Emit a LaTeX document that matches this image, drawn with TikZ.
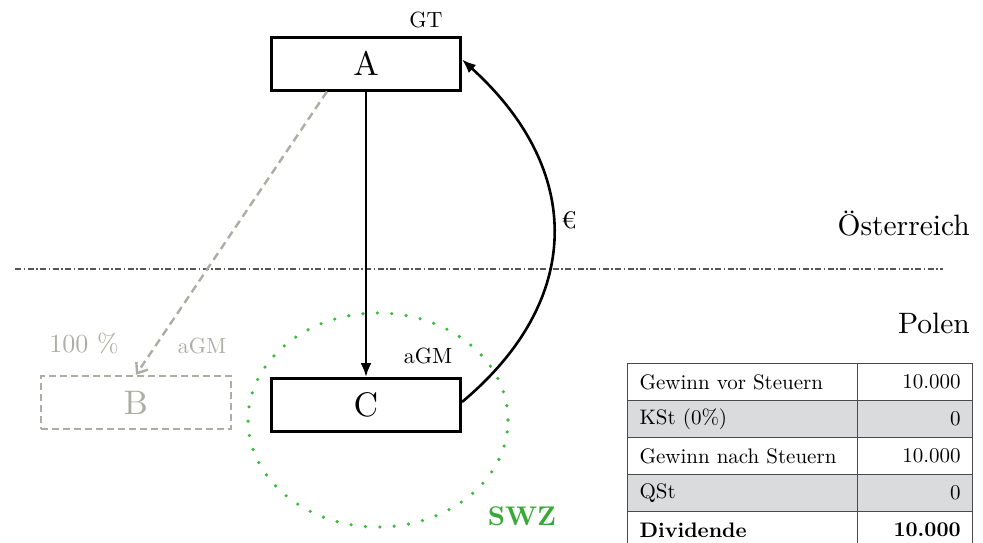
\documentclass[tikz,border=0pt]{standalone}
\usepackage{fontspec}
\setmainfont{lmroman10}[Extension=.otf, UprightFont=*-regular, BoldFont=*-bold,
  ItalicFont=*-italic, BoldItalicFont=*-bolditalic]
\usetikzlibrary{arrows.meta,calc}
\definecolor{ghost}{HTML}{ADADA5}
\definecolor{zone}{HTML}{3DBB3D}
\definecolor{swz}{HTML}{38A838}
\definecolor{rowgray}{HTML}{D9DBDC}
\definecolor{rule}{HTML}{4A4A4A}
\definecolor{border}{HTML}{555555}

\begin{document}
\begin{tikzpicture}[x=1pt,y=-1pt,
  entity/.style={draw, line width=3pt, minimum width=189pt, minimum height=53pt,
    inner sep=0pt, font=\fontsize{34}{38}\selectfont},
  ghostbox/.style={draw=ghost, dash pattern=on 7pt off 4pt, line width=2.4pt,
    minimum width=190pt, minimum height=53pt, inner sep=0pt, text=ghost,
    font=\fontsize{34}{38}\selectfont},
  tag/.style={font=\fontsize{22}{24}\selectfont, inner sep=0pt, anchor=base},
  country/.style={font=\fontsize{29.5}{32}\selectfont, inner sep=0pt, anchor=base east},
  flow/.style={line width=2.6pt, -{Latex[length=14pt,width=11pt]}},
  cell/.style={draw=rule, line width=1.3pt, anchor=north west, minimum height=37pt,
    inner xsep=12pt, inner ysep=0pt, font=\fontsize{21}{23}\selectfont},
  cellL/.style={cell, minimum width=230pt, text width=206pt, align=left},
  cellR/.style={cell, minimum width=115pt, text width=91pt, align=right},
  shaded/.style={fill=rowgray}
]
\useasboundingbox (0,0) rectangle (983,542);

% border between the two countries
\draw[border, line width=1.4pt, dash pattern=on 6pt off 2.5pt on 1.5pt off 2.5pt]
  (15,269) -- (943,269);
\node[country] (at) at (970,235) {Österreich};
\node[country] (pl) at (970,333) {Polen};

% special economic zone
\draw[zone, line width=3.6pt, line cap=round, dash pattern=on 0pt off 14.4pt]
  (378,420) ellipse [x radius=130pt, y radius=107pt];
\node[font=\fontsize{27}{29}\selectfont\bfseries, text=swz, anchor=base, inner sep=0pt]
  (swz) at (522,525) {SWZ};

% companies
\node[entity] (A) at (366,63.5) {A};
\node[entity, fill=white] (C) at (366,405) {C};
\node[ghostbox] (B) at (136,402.5) {B};

\node[tag] (gt) at (426,27) {GT};
\node[tag] (agmC) at (428,363) {aGM};
\node[tag, text=ghost, font=\fontsize{26}{28}\selectfont] (pct) at (84,352) {100 \%};
\node[tag, text=ghost] (agmB) at (202,353) {aGM};

% holdings and dividend flow
\draw[flow] (A.south) -- (C.north);
\draw[ghost, line width=2.4pt, dash pattern=on 8pt off 5pt, -{Straight Barb[length=9pt,width=14pt]}]
  ([xshift=-39pt]A.south) -- (B.north);
\draw[flow] ([yshift=3pt]C.east) .. controls (584,300) and (584,170) .. ([yshift=4pt]A.east);
\node[font=\fontsize{24}{26}\selectfont, anchor=base, inner sep=0pt] (eur) at (569,228) {€};

% tax computation
\node[cellL] (l1) at (627,363) {Gewinn vor Steuern};
\node[cellR] (r1) at (857,363) {10.000};
\node[cellL, shaded] (l2) at (627,400) {KSt (0\%)};
\node[cellR, shaded] (r2) at (857,400) {0};
\node[cellL] (l3) at (627,437) {Gewinn nach Steuern};
\node[cellR] (r3) at (857,437) {10.000};
\node[cellL, shaded] (l4) at (627,474) {QSt};
\node[cellR, shaded] (r4) at (857,474) {0};
\node[cellL, font=\fontsize{21}{23}\selectfont\bfseries] (l5) at (627,511) {Dividende};
\node[cellR, font=\fontsize{21}{23}\selectfont\bfseries] (r5) at (857,511) {10.000};
\end{tikzpicture}
\end{document}
